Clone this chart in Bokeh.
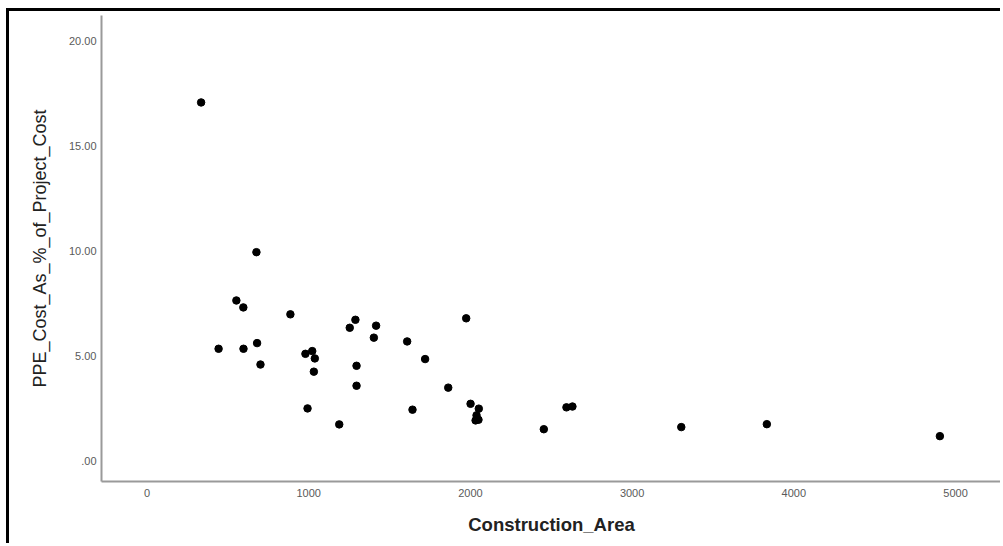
from bokeh.plotting import figure
from bokeh.models import FixedTicker, Range1d
from bokeh.embed import file_html
from bokeh.resources import INLINE

# Data
construction_area = [335, 677, 553, 596, 443, 597, 681, 702, 887, 980,
                     1022, 1038, 1032, 993, 1189, 1254, 1289, 1296, 1296, 1403,
                     1417, 1609, 1720, 1642, 1863, 1974, 2001, 2052, 2038, 2032,
                     2050, 2454, 2594, 2631, 3304, 3833, 4903]
ppe_cost_pct = [17.08, 9.95, 7.65, 7.32, 5.35, 5.35, 5.62, 4.60, 6.99, 5.11,
                5.24, 4.89, 4.26, 2.51, 1.75, 6.35, 6.73, 4.54, 3.59, 5.88,
                6.45, 5.70, 4.86, 2.45, 3.50, 6.80, 2.73, 2.50, 2.18, 1.94,
                1.97, 1.52, 2.56, 2.60, 1.62, 1.76, 1.19]

x_ticks = [0, 1000, 2000, 3000, 4000, 5000]
y_ticks = [0, 5, 10, 15, 20]
y_tick_labels = {0: ".00", 5: "5.00", 10: "10.00", 15: "15.00", 20: "20.00"}

FONT = "Liberation Sans"

p = figure(width=994, height=535, output_backend="svg", toolbar_location=None,
           x_range=Range1d(-281, 5284), y_range=Range1d(-0.97, 21.22),
           min_border_left=92, min_border_right=2, min_border_top=4,
           min_border_bottom=65)
p.styles = {"margin-left": "6px", "margin-top": "8px",
            "border-left": "3px solid black", "border-top": "3px solid black"}

p.scatter(construction_area, ppe_cost_pct, size=7.5, color="black")

p.outline_line_color = None
p.xgrid.visible = False
p.ygrid.visible = False

for ax in (p.xaxis[0], p.yaxis[0]):
    ax.axis_line_color = "#9a9a9a"
    ax.axis_line_width = 2
    ax.major_tick_line_color = None
    ax.minor_tick_line_color = None
    ax.major_tick_out = 0
    ax.major_tick_in = 0
    ax.major_label_text_font = FONT
    ax.major_label_text_font_size = "11px"
    ax.major_label_text_color = "#5a5a5a"
    ax.axis_label_text_font = FONT
    ax.axis_label_text_color = "#222222"

p.xaxis.ticker = FixedTicker(ticks=x_ticks)
p.yaxis.ticker = FixedTicker(ticks=y_ticks)
p.yaxis.major_label_overrides = y_tick_labels

p.xaxis.axis_label = "Construction_Area"
p.xaxis.axis_label_text_font_style = "bold"
p.xaxis.axis_label_text_font_size = "18.5px"
p.xaxis.major_label_standoff = 7
p.xaxis.axis_label_standoff = 14

p.yaxis.axis_label = "PPE_Cost_As_%_of_Project_Cost"
p.yaxis.axis_label_text_font_style = "normal"
p.yaxis.axis_label_text_font_size = "18px"
p.yaxis.major_label_standoff = 5
p.yaxis.axis_label_standoff = 16

open("out.html", "w").write(file_html(p, INLINE))
